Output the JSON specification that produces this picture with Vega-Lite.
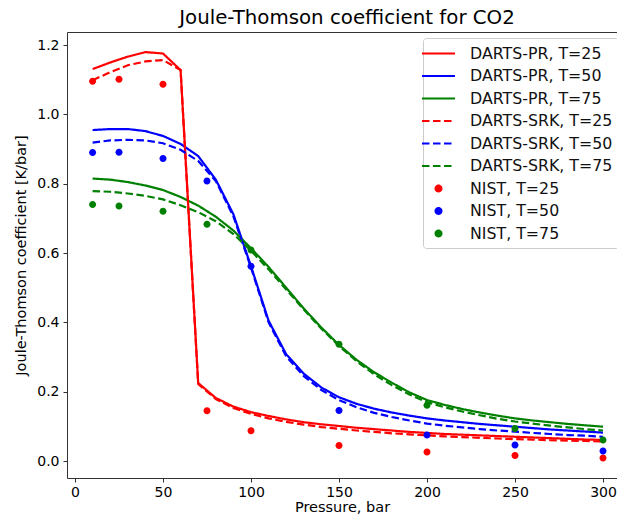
{
  "$schema": "https://vega.github.io/schema/vega-lite/v6.json",
  "width": 550,
  "height": 446,
  "autosize": {"type": "none"},
  "padding": {"left": 67, "top": 32, "right": 0, "bottom": 38},
  "background": "white",
  "title": {"text": "Joule-Thomson coefficient for CO2", "font": "DejaVu Sans", "fontSize": 19.8, "fontWeight": "normal", "color": "black", "anchor": "middle", "dx": 5, "offset": 4},
  "config": {
    "view": {"stroke": "#333", "strokeWidth": 1},
    "axis": {"labelFont": "DejaVu Sans", "titleFont": "DejaVu Sans", "labelFontSize": 14, "titleFontSize": 14.5, "titleFontWeight": "normal", "labelColor": "black", "titleColor": "black", "tickColor": "#333", "domain": false, "grid": false, "tickSize": 4},
    "legend": {"labelFont": "DejaVu Sans", "labelFontSize": 15.8, "labelColor": "#111"}
  },
  "datasets": {
    "lines": [
      {"p":10,"DARTS-PR, T=25":1.131,"DARTS-PR, T=50":0.955,"DARTS-PR, T=75":0.815,"DARTS-SRK, T=25":1.099,"DARTS-SRK, T=50":0.919,"DARTS-SRK, T=75":0.779},
      {"p":20,"DARTS-PR, T=25":1.150,"DARTS-PR, T=50":0.958,"DARTS-PR, T=75":0.812,"DARTS-SRK, T=25":1.122,"DARTS-SRK, T=50":0.925,"DARTS-SRK, T=75":0.777},
      {"p":30,"DARTS-PR, T=25":1.167,"DARTS-PR, T=50":0.958,"DARTS-PR, T=75":0.805,"DARTS-SRK, T=25":1.142,"DARTS-SRK, T=50":0.927,"DARTS-SRK, T=75":0.772},
      {"p":40,"DARTS-PR, T=25":1.180,"DARTS-PR, T=50":0.952,"DARTS-PR, T=75":0.795,"DARTS-SRK, T=25":1.153,"DARTS-SRK, T=50":0.925,"DARTS-SRK, T=75":0.765},
      {"p":50,"DARTS-PR, T=25":1.176,"DARTS-PR, T=50":0.938,"DARTS-PR, T=75":0.782,"DARTS-SRK, T=25":1.157,"DARTS-SRK, T=50":0.917,"DARTS-SRK, T=75":0.755},
      {"p":60,"DARTS-PR, T=25":1.128,"DARTS-PR, T=50":0.915,"DARTS-PR, T=75":0.762,"DARTS-SRK, T=25":1.128,"DARTS-SRK, T=50":0.898,"DARTS-SRK, T=75":0.738},
      {"p":70,"DARTS-PR, T=25":0.225,"DARTS-PR, T=50":0.880,"DARTS-PR, T=75":0.737,"DARTS-SRK, T=25":0.222,"DARTS-SRK, T=50":0.866,"DARTS-SRK, T=75":0.718},
      {"p":80,"DARTS-PR, T=25":0.182,"DARTS-PR, T=50":0.812,"DARTS-PR, T=75":0.705,"DARTS-SRK, T=25":0.179,"DARTS-SRK, T=50":0.808,"DARTS-SRK, T=75":0.692},
      {"p":90,"DARTS-PR, T=25":0.157,"DARTS-PR, T=50":0.712,"DARTS-PR, T=75":0.665,"DARTS-SRK, T=25":0.153,"DARTS-SRK, T=50":0.706,"DARTS-SRK, T=75":0.655},
      {"p":100,"DARTS-PR, T=25":0.141,"DARTS-PR, T=50":0.562,"DARTS-PR, T=75":0.614,"DARTS-SRK, T=25":0.136,"DARTS-SRK, T=50":0.558,"DARTS-SRK, T=75":0.607},
      {"p":110,"DARTS-PR, T=25":0.130,"DARTS-PR, T=50":0.405,"DARTS-PR, T=75":0.560,"DARTS-SRK, T=25":0.123,"DARTS-SRK, T=50":0.400,"DARTS-SRK, T=75":0.553},
      {"p":120,"DARTS-PR, T=25":0.120,"DARTS-PR, T=50":0.308,"DARTS-PR, T=75":0.500,"DARTS-SRK, T=25":0.113,"DARTS-SRK, T=50":0.302,"DARTS-SRK, T=75":0.495},
      {"p":130,"DARTS-PR, T=25":0.112,"DARTS-PR, T=50":0.252,"DARTS-PR, T=75":0.440,"DARTS-SRK, T=25":0.105,"DARTS-SRK, T=50":0.245,"DARTS-SRK, T=75":0.437},
      {"p":140,"DARTS-PR, T=25":0.106,"DARTS-PR, T=50":0.212,"DARTS-PR, T=75":0.385,"DARTS-SRK, T=25":0.098,"DARTS-SRK, T=50":0.205,"DARTS-SRK, T=75":0.382},
      {"p":150,"DARTS-PR, T=25":0.101,"DARTS-PR, T=50":0.184,"DARTS-PR, T=75":0.335,"DARTS-SRK, T=25":0.093,"DARTS-SRK, T=50":0.176,"DARTS-SRK, T=75":0.332},
      {"p":160,"DARTS-PR, T=25":0.096,"DARTS-PR, T=50":0.165,"DARTS-PR, T=75":0.292,"DARTS-SRK, T=25":0.088,"DARTS-SRK, T=50":0.155,"DARTS-SRK, T=75":0.288},
      {"p":170,"DARTS-PR, T=25":0.092,"DARTS-PR, T=50":0.151,"DARTS-PR, T=75":0.256,"DARTS-SRK, T=25":0.084,"DARTS-SRK, T=50":0.139,"DARTS-SRK, T=75":0.250},
      {"p":180,"DARTS-PR, T=25":0.088,"DARTS-PR, T=50":0.140,"DARTS-PR, T=75":0.226,"DARTS-SRK, T=25":0.080,"DARTS-SRK, T=50":0.127,"DARTS-SRK, T=75":0.219},
      {"p":190,"DARTS-PR, T=25":0.084,"DARTS-PR, T=50":0.131,"DARTS-PR, T=75":0.198,"DARTS-SRK, T=25":0.077,"DARTS-SRK, T=50":0.117,"DARTS-SRK, T=75":0.192},
      {"p":200,"DARTS-PR, T=25":0.081,"DARTS-PR, T=50":0.123,"DARTS-PR, T=75":0.176,"DARTS-SRK, T=25":0.074,"DARTS-SRK, T=50":0.108,"DARTS-SRK, T=75":0.170},
      {"p":210,"DARTS-PR, T=25":0.078,"DARTS-PR, T=50":0.117,"DARTS-PR, T=75":0.162,"DARTS-SRK, T=25":0.071,"DARTS-SRK, T=50":0.102,"DARTS-SRK, T=75":0.155},
      {"p":220,"DARTS-PR, T=25":0.076,"DARTS-PR, T=50":0.112,"DARTS-PR, T=75":0.150,"DARTS-SRK, T=25":0.069,"DARTS-SRK, T=50":0.097,"DARTS-SRK, T=75":0.143},
      {"p":230,"DARTS-PR, T=25":0.074,"DARTS-PR, T=50":0.107,"DARTS-PR, T=75":0.140,"DARTS-SRK, T=25":0.067,"DARTS-SRK, T=50":0.092,"DARTS-SRK, T=75":0.132},
      {"p":240,"DARTS-PR, T=25":0.072,"DARTS-PR, T=50":0.103,"DARTS-PR, T=75":0.131,"DARTS-SRK, T=25":0.065,"DARTS-SRK, T=50":0.088,"DARTS-SRK, T=75":0.122},
      {"p":250,"DARTS-PR, T=25":0.070,"DARTS-PR, T=50":0.099,"DARTS-PR, T=75":0.123,"DARTS-SRK, T=25":0.063,"DARTS-SRK, T=50":0.085,"DARTS-SRK, T=75":0.114},
      {"p":260,"DARTS-PR, T=25":0.068,"DARTS-PR, T=50":0.095,"DARTS-PR, T=75":0.117,"DARTS-SRK, T=25":0.062,"DARTS-SRK, T=50":0.081,"DARTS-SRK, T=75":0.108},
      {"p":270,"DARTS-PR, T=25":0.066,"DARTS-PR, T=50":0.091,"DARTS-PR, T=75":0.112,"DARTS-SRK, T=25":0.060,"DARTS-SRK, T=50":0.078,"DARTS-SRK, T=75":0.102},
      {"p":280,"DARTS-PR, T=25":0.064,"DARTS-PR, T=50":0.088,"DARTS-PR, T=75":0.107,"DARTS-SRK, T=25":0.059,"DARTS-SRK, T=50":0.075,"DARTS-SRK, T=75":0.097},
      {"p":290,"DARTS-PR, T=25":0.062,"DARTS-PR, T=50":0.085,"DARTS-PR, T=75":0.103,"DARTS-SRK, T=25":0.058,"DARTS-SRK, T=50":0.073,"DARTS-SRK, T=75":0.092},
      {"p":300,"DARTS-PR, T=25":0.061,"DARTS-PR, T=50":0.082,"DARTS-PR, T=75":0.099,"DARTS-SRK, T=25":0.056,"DARTS-SRK, T=50":0.070,"DARTS-SRK, T=75":0.088}
    ],
    "nist": [
      {"p":10,"NIST, T=25":1.096,"NIST, T=50":0.890,"NIST, T=75":0.740},
      {"p":25,"NIST, T=25":1.102,"NIST, T=50":0.891,"NIST, T=75":0.736},
      {"p":50,"NIST, T=25":1.087,"NIST, T=50":0.873,"NIST, T=75":0.721},
      {"p":75,"NIST, T=25":0.145,"NIST, T=50":0.808,"NIST, T=75":0.683},
      {"p":100,"NIST, T=25":0.087,"NIST, T=50":0.562,"NIST, T=75":0.609},
      {"p":150,"NIST, T=25":0.045,"NIST, T=50":0.146,"NIST, T=75":0.337},
      {"p":200,"NIST, T=25":0.026,"NIST, T=50":0.075,"NIST, T=75":0.161},
      {"p":250,"NIST, T=25":0.016,"NIST, T=50":0.046,"NIST, T=75":0.094},
      {"p":300,"NIST, T=25":0.009,"NIST, T=50":0.029,"NIST, T=75":0.061}
    ]
  },
  "encoding": {
    "x": {"field": "p", "type": "quantitative", "scale": {"domain": [-4.545, 307.95], "nice": false, "zero": false},
      "axis": {"values": [0, 50, 100, 150, 200, 250, 300], "title": "Pressure, bar", "titlePadding": 1, "labelPadding": 3}},
    "y": {"field": "v", "type": "quantitative", "scale": {"domain": [-0.049, 1.238], "nice": false, "zero": false},
      "axis": {"values": [0, 0.2, 0.4, 0.6, 0.8, 1.0, 1.2], "format": ".1f", "title": "Joule-Thomson coefficient [K/bar]", "titlePadding": 8, "labelPadding": 4}}
  },
  "layer": [
    {
      "data": {"name": "lines"},
      "transform": [{"fold": ["DARTS-PR, T=25", "DARTS-PR, T=50", "DARTS-PR, T=75", "DARTS-SRK, T=25", "DARTS-SRK, T=50", "DARTS-SRK, T=75"], "as": ["series", "v"]}],
      "mark": {"type": "line", "strokeWidth": 2.2, "clip": true},
      "encoding": {
        "detail": {"field": "series"},
        "stroke": {"field": "series", "type": "nominal",
          "scale": {"domain": ["DARTS-PR, T=25", "DARTS-PR, T=50", "DARTS-PR, T=75", "DARTS-SRK, T=25", "DARTS-SRK, T=50", "DARTS-SRK, T=75", "NIST, T=25", "NIST, T=50", "NIST, T=75"],
            "range": ["#ff0000", "#0000ff", "#008000", "#ff0000", "#0000ff", "#008000", "#ff0000", "#0000ff", "#008000"]},
          "legend": {"title": null, "orient": "none", "legendX": 356, "legendY": 6, "padding": 6, "strokeColor": "#cccccc", "fillColor": "white", "cornerRadius": 3, "rowPadding": 4.5, "labelOffset": 22, "symbolStrokeWidth": 2.2, "symbolSize": 272}},
        "strokeDash": {"field": "series", "type": "nominal",
          "scale": {"domain": ["DARTS-PR, T=25", "DARTS-PR, T=50", "DARTS-PR, T=75", "DARTS-SRK, T=25", "DARTS-SRK, T=50", "DARTS-SRK, T=75", "NIST, T=25", "NIST, T=50", "NIST, T=75"],
            "range": [[1, 0], [1, 0], [1, 0], [7.5, 3.5], [7.5, 3.5], [7.5, 3.5], [1, 0], [1, 0], [1, 0]]},
          "legend": {"title": null, "orient": "none", "legendX": 356, "legendY": 6}}
      }
    },
    {
      "data": {"name": "nist"},
      "transform": [{"fold": ["NIST, T=25", "NIST, T=50", "NIST, T=75"], "as": ["series", "v"]}],
      "mark": {"type": "point", "filled": true, "opacity": 1, "clip": true, "size": 400},
      "encoding": {
        "fill": {"field": "series", "type": "nominal",
          "scale": {"domain": ["DARTS-PR, T=25", "DARTS-PR, T=50", "DARTS-PR, T=75", "DARTS-SRK, T=25", "DARTS-SRK, T=50", "DARTS-SRK, T=75", "NIST, T=25", "NIST, T=50", "NIST, T=75"],
            "range": ["#ff0000", "#0000ff", "#008000", "#ff0000", "#0000ff", "#008000", "#ff0000", "#0000ff", "#008000"]},
          "legend": {"title": null, "orient": "none", "legendX": 356, "legendY": 6}},
        "stroke": {"field": "series", "type": "nominal"},
        "strokeWidth": {"value": 0},
        "shape": {"field": "series", "type": "nominal",
          "scale": {"domain": ["DARTS-PR, T=25", "DARTS-PR, T=50", "DARTS-PR, T=75", "DARTS-SRK, T=25", "DARTS-SRK, T=50", "DARTS-SRK, T=75", "NIST, T=25", "NIST, T=50", "NIST, T=75"],
            "range": ["M-2,0H2", "M-2,0H2", "M-2,0H2", "M-2,0H2", "M-2,0H2", "M-2,0H2", "M-0.35,0A0.35,0.35 0 1 1 0.35,0A0.35,0.35 0 1 1 -0.35,0Z", "M-0.35,0A0.35,0.35 0 1 1 0.35,0A0.35,0.35 0 1 1 -0.35,0Z", "M-0.35,0A0.35,0.35 0 1 1 0.35,0A0.35,0.35 0 1 1 -0.35,0Z"]},
          "legend": {"title": null, "orient": "none", "legendX": 356, "legendY": 6}}
      }
    }
  ]
}
